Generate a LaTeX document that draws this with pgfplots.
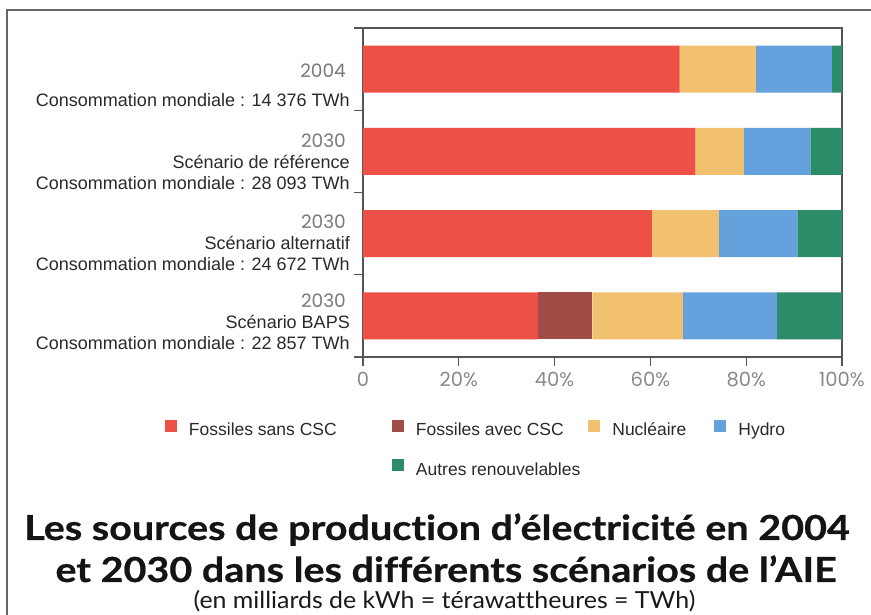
\documentclass[border=0pt]{standalone}
\usepackage{pgfplots}
\pgfplotsset{compat=1.18}
\usepackage{fontspec}
\setmainfont{Liberation Sans}
\newfontfamily\yearfont{Poppins}
\newfontfamily\titlefont[Ligatures=NoCommon, FakeStretch=1.06]{Lato}
\newfontfamily\titlefontwide[Ligatures=NoCommon, FakeStretch=1.145, FakeBold=0.6]{Lato}
\definecolor{cred}{HTML}{EC5047}
\definecolor{cbrown}{HTML}{A24C47}
\definecolor{cyellow}{HTML}{F2C16F}
\definecolor{cblue}{HTML}{65A1DC}
\definecolor{cgreen}{HTML}{2C8C68}
\definecolor{axisgray}{HTML}{555555}
\definecolor{framegray}{HTML}{666666}
\definecolor{tickgray}{HTML}{8A8A8A}
\definecolor{yeargray}{HTML}{7A7A7A}
\definecolor{labgray}{HTML}{2A2A2A}
\newcommand{\yr}[1]{{\yearfont\fontsize{18.5}{21}\selectfont\color{yeargray}#1}\hspace*{4pt}}
\begin{document}
\begin{tikzpicture}
\useasboundingbox (0pt,0pt) rectangle (871pt,615pt);
\fill[white] (0pt,0pt) rectangle (871pt,615pt);
\draw[framegray, line width=2.5pt] (7pt,0pt) -- (7pt,605pt) -- (871pt,605pt);
\begin{axis}[
  at={(363pt,258pt)}, anchor=south west,
  scale only axis, width=479pt, height=329pt,
  xbar stacked, bar width=47pt,
  xmin=0, xmax=100, ymin=-0.5, ymax=3.5, y dir=reverse,
  axis line style={draw=axisgray, line width=1.3pt},
  tick style={draw=axisgray, line width=1.3pt},
  tick align=outside, major tick length=9pt,
  xtick pos=left, ytick pos=left,
  xtick={0,20,40,60,80,100},
  xticklabels={0,20\%,40\%,60\%,80\%,100\%},
  xticklabel style={font=\yearfont\fontsize{19.5}{22}\selectfont, text=tickgray, yshift=-3pt},
  ytick={-0.5,0.5,1.5,2.5,3.5}, yticklabels={},
  extra y ticks={0.2,1.13,2.11,3.07},
  extra y tick labels={
    {\yr{2004}\\[8pt]Consommation mondiale : 14 376 TWh},
    {\yr{2030}\\Scénario de référence\\Consommation mondiale : 28 093 TWh},
    {\yr{2030}\\Scénario alternatif\\Consommation mondiale : 24 672 TWh},
    {\yr{2030}\\Scénario BAPS\\Consommation mondiale : 22 857 TWh}},
  extra y tick style={major tick length=0pt,
    yticklabel style={align=right, anchor=east, inner sep=0pt, xshift=-13pt,
      font=\fontsize{18}{21}\selectfont, text=labgray}},
  legend columns=4,
  legend cell align=left,
  legend image code/.code={\draw[#1,draw=none] (0pt,0pt) rectangle (12pt,12pt);},
  legend style={at={(axis description cs:-0.4134,-0.190)}, anchor=north west,
    draw=none, fill=none, inner sep=0pt, outer sep=0pt,
    font=\fontsize{17.5}{20}\selectfont, text=labgray,
    nodes={inner sep=0pt, text height=12.5pt, text depth=4.5pt},
    row sep=19pt,
    /tikz/every odd column/.append style={column sep=12pt},
    /tikz/every even column/.append style={column sep=8pt}},
]
\addplot[fill=cred, draw=none] coordinates {(66.1,0) (69.4,1) (60.3,2) (36.5,3)};
\addlegendentry{\makebox[195pt][l]{Fossiles sans CSC}}
\addplot[fill=cbrown, draw=none] coordinates {(0,0) (0,1) (0,2) (11.4,3)};
\addlegendentry{Fossiles avec CSC}
\addplot[fill=cyellow, draw=none] coordinates {(15.9,0) (10.1,1) (14.0,2) (18.9,3)};
\addlegendentry{\makebox[94pt][l]{Nucléaire}}
\addplot[fill=cblue, draw=none] coordinates {(15.9,0) (13.9,1) (16.4,2) (19.6,3)};
\addlegendentry{Hydro}
\addlegendimage{empty legend}
\addlegendentry{}
\addplot[fill=cgreen, draw=none] coordinates {(2.1,0) (6.6,1) (9.3,2) (13.6,3)};
\addlegendentry{Autres renouvelables}
\end{axis}
\node[anchor=base, font=\titlefontwide\bfseries\fontsize{34.5}{38}\selectfont, text=black!92] at (437pt,75pt) {Les sources de production d’électricité en 2004};
\node[anchor=base, font=\titlefontwide\bfseries\fontsize{34.5}{38}\selectfont, text=black!92] at (446pt,33pt) {et 2030 dans les différents scénarios de l’AIE};
\node[anchor=base, font=\titlefont\fontsize{23.5}{26}\selectfont, text=black!90] at (444.5pt,6pt) {(en milliards de kWh = térawattheures = TWh)};
\end{tikzpicture}
\end{document}
